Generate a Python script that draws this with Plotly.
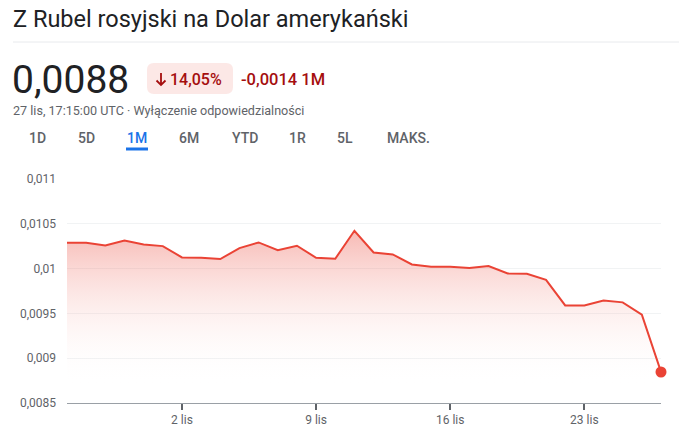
import plotly.graph_objects as go

dates = ["2024-10-27", "2024-10-28", "2024-10-29", "2024-10-30", "2024-10-31",
         "2024-11-01", "2024-11-02", "2024-11-03", "2024-11-04", "2024-11-05",
         "2024-11-06", "2024-11-07", "2024-11-08", "2024-11-09", "2024-11-10",
         "2024-11-11", "2024-11-12", "2024-11-13", "2024-11-14", "2024-11-15",
         "2024-11-16", "2024-11-17", "2024-11-18", "2024-11-19", "2024-11-20",
         "2024-11-21", "2024-11-22", "2024-11-23", "2024-11-24", "2024-11-25",
         "2024-11-26", "2024-11-27"]
rates = [0.010288, 0.010288, 0.010258, 0.010314, 0.010270,
         0.010251, 0.010125, 0.010121, 0.010106, 0.010229,
         0.010292, 0.010206, 0.010255, 0.010121, 0.010110,
         0.010422, 0.010180, 0.010158, 0.010046, 0.010020,
         0.010020, 0.010006, 0.010028, 0.009946, 0.009942,
         0.009875, 0.009589, 0.009589, 0.009645, 0.009623,
         0.009485, 0.008846]

y_tick_vals = [0.0085, 0.009, 0.0095, 0.01, 0.0105, 0.011]
y_tick_text = ["0,0085", "0,009", "0,0095", "0,01", "0,0105", "0,011"]
x_tick_vals = ["2024-11-02", "2024-11-09", "2024-11-16", "2024-11-23"]
x_tick_text = ["2 lis", "9 lis", "16 lis", "23 lis"]

title_text = "Z Rubel rosyjski na Dolar amerykański"
price_text = "0,0088"
pct_text = "14,05%"
change_text = "-0,0014 1M"
sub_text = "27 lis, 17:15:00 UTC · Wyłączenie odpowiedzialności"
tabs = ["1D", "5D", "1M", "6M", "YTD", "1R", "5L", "MAKS."]
tab_x = [37, 86.5, 137, 188.5, 245, 297.5, 345, 408]

W, H = 679, 438
L, R_, T, B = 67, 18, 179, 35
PW = W - L - R_
PH = H - T - B

def px(x):
    return (x - L) / PW

def py(y):
    return (H - B - y) / PH

RED = "#ea4335"
FONT = "Roboto, Arial, sans-serif"

fig = go.Figure()
fig.add_trace(go.Scatter(
    x=dates, y=rates, mode="lines",
    line=dict(color=RED, width=2),
    fill="tozeroy",
    fillgradient=dict(type="vertical", start=0.0087, stop=0.01045,
                      colorscale=[[0, "rgba(255,255,255,0)"],
                                  [1, "rgba(234,67,53,0.38)"]]),
    hoverinfo="skip", showlegend=False,
))
fig.add_trace(go.Scatter(
    x=[dates[-1]], y=[rates[-1]], mode="markers",
    marker=dict(color=RED, size=11),
    cliponaxis=False, showlegend=False, hoverinfo="skip",
))

ann = []
def text(x, y, s, size, color, xanchor="left", weight=None):
    f = dict(family=FONT, size=size, color=color)
    if weight:
        f["weight"] = weight
    ann.append(dict(x=px(x), y=py(y), xref="paper", yref="paper", text=s,
                    showarrow=False, xanchor=xanchor, yanchor="middle",
                    font=f))

text(11, 19, title_text, 23.5, "#202124")
text(10, 80, price_text, 39, "#202124")
text(168, 79, pct_text, 16, "#a50e0e", weight=500)
text(239, 79, change_text, 16.5, "#a50e0e", weight=500)
text(11, 110, sub_text, 12.6, "#5f6368")
for t, x in zip(tabs, tab_x):
    text(x, 138, t, 14, "#1a73e8" if t == "1M" else "#5f6368", xanchor="center", weight=500)

def rounded_rect(x0, y0, x1, y1, r):
    return (f"M {px(x0 + r)},{py(y0)} L {px(x1 - r)},{py(y0)} "
            f"Q {px(x1)},{py(y0)} {px(x1)},{py(y0 + r)} "
            f"L {px(x1)},{py(y1 - r)} Q {px(x1)},{py(y1)} {px(x1 - r)},{py(y1)} "
            f"L {px(x0 + r)},{py(y1)} Q {px(x0)},{py(y1)} {px(x0)},{py(y1 - r)} "
            f"L {px(x0)},{py(y0 + r)} Q {px(x0)},{py(y0)} {px(x0 + r)},{py(y0)} Z")

# down-arrow icon in the badge
arrow_path = (f"M {px(161)},{py(73)} L {px(161)},{py(85)} "
              f"M {px(156.5)},{py(80.5)} L {px(161)},{py(85)} L {px(165.5)},{py(80.5)}")

shapes = [
    dict(type="line", xref="paper", yref="paper", x0=px(13), x1=px(679),
         y0=py(42), y1=py(42), line=dict(color="#e8eaed", width=1)),
    dict(type="path", xref="paper", yref="paper", path=rounded_rect(147, 63, 233, 94, 7),
         fillcolor="#fce8e6", line=dict(width=0), layer="below"),
    dict(type="path", xref="paper", yref="paper", path=arrow_path,
         line=dict(color="#a50e0e", width=1.8)),
    dict(type="line", xref="paper", yref="paper", x0=px(126), x1=px(148),
         y0=py(149), y1=py(149), line=dict(color="#1a73e8", width=3)),
]

fig.update_layout(
    width=W, height=H,
    margin=dict(l=L, r=R_, t=T, b=B),
    paper_bgcolor="white", plot_bgcolor="white",
    separators=", ",
    annotations=ann, shapes=shapes,
    font=dict(family=FONT, color="#5f6368", size=12),
    xaxis=dict(range=[dates[0], dates[-1]], tickvals=x_tick_vals, ticktext=x_tick_text,
               showgrid=False, ticks="outside", ticklen=6, tickwidth=2, tickcolor="#5f6368",
               showline=True, linecolor="#9aa0a6", linewidth=1, zeroline=False,
               tickfont=dict(size=12, color="#5f6368")),
    yaxis=dict(range=[0.0085, 0.011], tickvals=y_tick_vals, ticktext=y_tick_text,
               showgrid=True, gridcolor="#f1f3f4", gridwidth=1, zeroline=False,
               ticks="", ticklabelstandoff=10,
               tickfont=dict(size=12, color="#5f6368")),
    hovermode=False,
)

fig.write_html("out.html",
               config={"displayModeBar": False, "staticPlot": True},
               post_script="document.body.style.margin='0';document.body.style.overflow='hidden';")
